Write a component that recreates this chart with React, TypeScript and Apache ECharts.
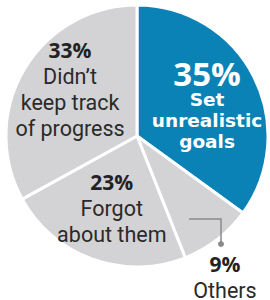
import React, { useEffect, useRef } from "react";
import * as echarts from "echarts";

const categories = ["Set unrealistic goals", "Others", "Forgot about them", "Didn't keep track of progress"];
const values = [35, 9, 23, 33];
const labelLines = [
  ["Set", "unrealistic", "goals"],
  ["Others"],
  ["Forgot", "about them"],
  ["Didn\u2019t", "keep track", "of progress"],
];
const sliceColors = ["#0a82b5", "#d3d3d5", "#d3d3d5", "#d3d3d5"];
const labelShift = [
  [9, 0],
  [46, 87],
  [-2, 8],
  [-8, -12],
];

const FONT = "Roboto, 'Liberation Sans', sans-serif";
const NUM_FONT = "'Open Sans', Roboto, sans-serif";
const HEAVY_FONT = "'DejaVu Sans', 'Open Sans', sans-serif";

export default function App() {
  const ref = useRef<HTMLDivElement>(null);
  useEffect(() => {
    document.body.style.margin = "0";
    const chart = echarts.init(ref.current!, null, { renderer: "svg" });
    const data = categories.map((name, i) => {
      const big = i === 0;
      const lines = labelLines[i].map((t) => `{${big ? "bt" : "t"}|${t}}`);
      return {
        name,
        value: values[i],
        itemStyle: { color: sliceColors[i] },
        label: {
          formatter: [`{${big ? "bp" : "p"}|${values[i]}%}`, ...lines].join("\n"),
        },
      };
    });
    chart.setOption({
      animation: false,
      series: [
        {
          type: "pie",
          center: [137, 136],
          radius: [0, 131],
          startAngle: 90,
          clockwise: true,
          silent: true,
          itemStyle: { borderColor: "#ffffff", borderWidth: 3 },
          label: {
            show: true,
            position: "inside",
            align: "center",
            rich: {
              bp: { fontFamily: NUM_FONT, fontWeight: "bold", fontSize: 33, color: "#ffffff", lineHeight: 32, align: "center" },
              bt: { fontFamily: HEAVY_FONT, fontWeight: "bold", fontSize: 18.5, color: "#ffffff", lineHeight: 21, align: "center" },
              p: { fontFamily: NUM_FONT, fontWeight: "bold", fontSize: 21, color: "#222222", lineHeight: 26, align: "center" },
              t: { fontFamily: FONT, fontWeight: "normal", fontSize: 21.5, color: "#2a2a2a", lineHeight: 26, align: "center" },
            },
          },
          labelLine: { show: false },
          labelLayout: (params: any) => ({
            dx: labelShift[params.dataIndex][0],
            dy: labelShift[params.dataIndex][1],
          }),
          data,
        },
      ],
      graphic: [
        {
          type: "polyline",
          shape: { points: [[189, 219], [221, 219], [221, 243]] },
          style: { stroke: "#8a8a8a", lineWidth: 1.5, fill: null },
          z: 100,
        },
        {
          type: "circle",
          shape: { cx: 221, cy: 244, r: 3 },
          style: { fill: "#8a8a8a" },
          z: 100,
        },
      ],
    });
    return () => chart.dispose();
  }, []);
  return <div ref={ref} style={{ position: "absolute", left: 0, top: 0, width: 270, height: 300 }} />;
}
